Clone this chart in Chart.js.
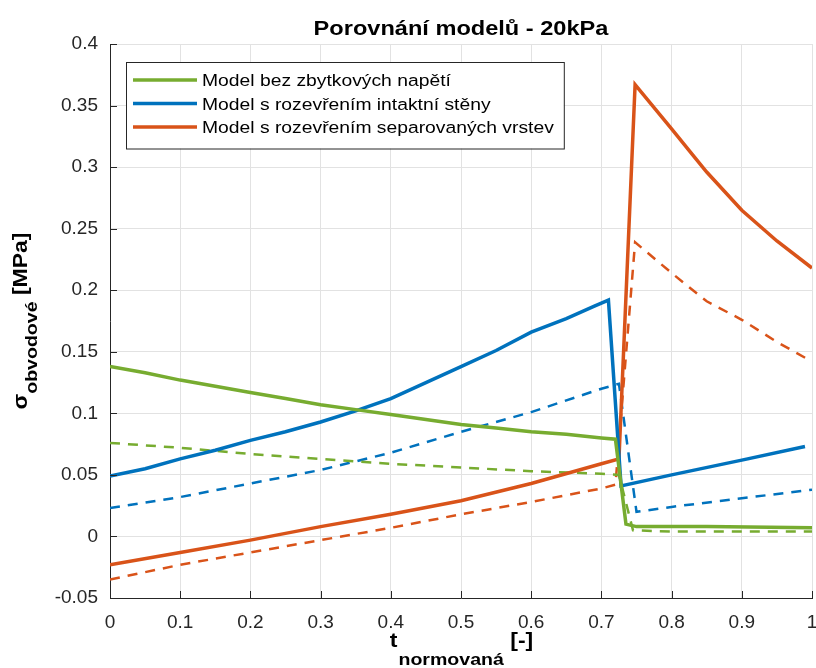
<!DOCTYPE html>
<html>
<head>
<meta charset="utf-8">
<script src="https://cdn.jsdelivr.net/npm/chart.js@4/dist/chart.umd.min.js"></script>
<style>
  html, body { margin: 0; padding: 0; background: #fff; }
  #wrap { width: 816px; height: 668px; }
</style>
</head>
<body>
<div id="wrap"><canvas id="chart" width="816" height="668"></canvas></div>
<script>
// data
const tGreen = [0, 0.05, 0.1, 0.15, 0.2, 0.25, 0.3, 0.35, 0.4, 0.45, 0.5, 0.55, 0.6, 0.65, 0.7, 0.72, 0.735, 0.75, 0.85, 1];
const greenSolid = [0.138, 0.133, 0.127, 0.122, 0.117, 0.112, 0.107, 0.103, 0.099, 0.095, 0.091, 0.088, 0.085, 0.083, 0.080, 0.079, 0.010, 0.008, 0.008, 0.007];
const tGreenDash = [0, 0.1, 0.2, 0.3, 0.4, 0.5, 0.6, 0.7, 0.725, 0.745, 0.8, 1];
const greenDash = [0.076, 0.072, 0.067, 0.063, 0.059, 0.056, 0.053, 0.051, 0.050, 0.005, 0.004, 0.004];

const tBlue = [0, 0.05, 0.1, 0.15, 0.2, 0.25, 0.3, 0.35, 0.4, 0.45, 0.5, 0.55, 0.6, 0.65, 0.69, 0.71, 0.728, 0.8, 0.9, 0.99];
const blueSolid = [0.049, 0.055, 0.063, 0.070, 0.078, 0.085, 0.093, 0.102, 0.112, 0.125, 0.138, 0.151, 0.166, 0.177, 0.187, 0.192, 0.041, 0.050, 0.062, 0.073];
const tBlueDash = [0, 0.1, 0.2, 0.3, 0.4, 0.5, 0.6, 0.7, 0.725, 0.75, 0.8, 0.9, 1];
const blueDash = [0.023, 0.032, 0.043, 0.054, 0.068, 0.085, 0.101, 0.120, 0.124, 0.020, 0.024, 0.031, 0.038];

const tOrange = [0, 0.1, 0.2, 0.3, 0.4, 0.5, 0.6, 0.7, 0.725, 0.748, 0.8, 0.83, 0.85, 0.9, 0.95, 1];
const orangeSolid = [-0.023, -0.013, -0.003, 0.008, 0.018, 0.029, 0.043, 0.059, 0.063, 0.367, 0.331, 0.310, 0.296, 0.265, 0.240, 0.218];
const tOrangeDash = [0, 0.1, 0.2, 0.3, 0.4, 0.5, 0.6, 0.7, 0.72, 0.748, 0.8, 0.85, 0.9, 0.95, 1];
const orangeDash = [-0.035, -0.023, -0.013, -0.003, 0.007, 0.018, 0.028, 0.039, 0.042, 0.239, 0.214, 0.191, 0.176, 0.158, 0.142];

const xTicks = [0, 0.1, 0.2, 0.3, 0.4, 0.5, 0.6, 0.7, 0.8, 0.9, 1];
const xTickLabels = ['0', '0.1', '0.2', '0.3', '0.4', '0.5', '0.6', '0.7', '0.8', '0.9', '1'];
const yTicks = [-0.05, 0, 0.05, 0.1, 0.15, 0.2, 0.25, 0.3, 0.35, 0.4];
const yTickLabels = ['-0.05', '0', '0.05', '0.1', '0.15', '0.2', '0.25', '0.3', '0.35', '0.4'];

const GREEN = '#77AC30', BLUE = '#0072BD', ORANGE = '#D95319';
const FONT = "'Liberation Sans', Arial, sans-serif";
const STRETCH = 1.15; // the figure's text is a bit wider than the font

function pts(ts, ys) {
    return ts.map((t, i) => ({ x: t, y: ys[i] }));
}

function solid(label, ts, ys, color) {
    return { label: label, data: pts(ts, ys), borderColor: color, borderWidth: 3.5,
             pointRadius: 0, showLine: true, fill: false, tension: 0 };
}
function dashed(ts, ys, color) {
    return { label: '', data: pts(ts, ys), borderColor: color, borderWidth: 2.5, borderDash: [10, 8],
             pointRadius: 0, showLine: true, fill: false, tension: 0 };
}

// text drawn a little wider than the font, as in the figure
function textW(ctx, s, font) {
    ctx.font = font;
    return ctx.measureText(s).width * STRETCH;
}
function drawT(ctx, s, x, y, font) {
    ctx.save();
    ctx.font = font;
    ctx.translate(x, y);
    ctx.scale(STRETCH, 1);
    ctx.textAlign = 'left';
    ctx.textBaseline = 'alphabetic';
    ctx.fillText(s, 0, 0);
    ctx.restore();
}

const decor = {
    id: 'decor',
    afterDraw(chart) {
        const ctx = chart.ctx;
        const a = chart.chartArea;
        const xs = chart.scales.x, ys = chart.scales.y;
        const cx = (a.left + a.right) / 2;

        // inward ticks
        ctx.save();
        ctx.strokeStyle = '#262626';
        ctx.lineWidth = 1;
        ctx.beginPath();
        yTicks.forEach(v => {
            const py = Math.round(ys.getPixelForValue(v)) + 0.5;
            ctx.moveTo(a.left, py); ctx.lineTo(a.left + 7, py);
        });
        xTicks.forEach(v => {
            const px = Math.round(xs.getPixelForValue(v)) + 0.5;
            ctx.moveTo(px, a.bottom); ctx.lineTo(px, a.bottom - 7);
        });
        ctx.stroke();
        ctx.restore();

        ctx.save();
        ctx.fillStyle = '#000';
        // title
        const tFont = 'bold 20.5px ' + FONT;
        const title = 'Porovnání modelů - 20kPa';
        drawT(ctx, title, cx - textW(ctx, title, tFont) / 2, 35, tFont);

        // x axis title with subscript
        const big = 'bold 20px ' + FONT, small = 'bold 17px ' + FONT;
        const p1 = 't', p2 = 'normovaná', p3 = ' [-]';
        const w1 = textW(ctx, p1, big), w2 = textW(ctx, p2, small), w3 = textW(ctx, p3, big);
        let x0 = cx - (w1 + w2 + w3) / 2;
        drawT(ctx, p1, x0, 647, big);
        drawT(ctx, p2, x0 + w1 + 1, 665, small);
        drawT(ctx, p3, x0 + w1 + w2 + 1, 647, big);

        // y axis title, rotated
        const q1 = 'σ', q2 = 'obvodové', q3 = ' [MPa]';
        const v1 = textW(ctx, q1, big), v2 = textW(ctx, q2, small), v3 = textW(ctx, q3, big);
        const cy = (a.top + a.bottom) / 2;
        ctx.translate(27, cy);
        ctx.rotate(-Math.PI / 2);
        let s0 = -(v1 + v2 + v3) / 2;
        drawT(ctx, q1, s0, 0, big);
        drawT(ctx, q2, s0 + v1, 10, small);
        drawT(ctx, q3, s0 + v1 + v2, 0, big);
        ctx.restore();

        // legend box (solid series only)
        const items = chart.data.datasets.filter(d => d.label);
        const lx = a.left + 16, ly = a.top + 18, rowH = 23.5;
        const lFont = '16.8px ' + FONT;
        let maxW = 0;
        items.forEach(d => { maxW = Math.max(maxW, textW(ctx, d.label, lFont)); });
        const boxW = 76 + maxW + 10, boxH = rowH * items.length + 16;
        ctx.save();
        ctx.fillStyle = '#fff';
        ctx.fillRect(lx, ly, boxW, boxH);
        ctx.strokeStyle = '#262626';
        ctx.lineWidth = 1;
        ctx.strokeRect(lx + 0.5, ly + 0.5, boxW, boxH);
        items.forEach((d, i) => {
            const yy = ly + 18 + i * rowH;
            ctx.strokeStyle = d.borderColor;
            ctx.lineWidth = 3.5;
            ctx.beginPath();
            ctx.moveTo(lx + 7, yy); ctx.lineTo(lx + 71, yy);
            ctx.stroke();
            ctx.fillStyle = '#000';
            drawT(ctx, d.label, lx + 76, yy + 6, lFont);
        });
        ctx.restore();
    }
};

Chart.defaults.font.family = FONT;

new Chart(document.getElementById('chart'), {
    type: 'scatter',
    data: {
        datasets: [
            solid('Model bez zbytkových napětí', tGreen, greenSolid, GREEN),
            solid('Model s rozevřením intaktní stěny', tBlue, blueSolid, BLUE),
            solid('Model s rozevřením separovaných vrstev', tOrange, orangeSolid, ORANGE),
            dashed(tGreenDash, greenDash, GREEN),
            dashed(tBlueDash, blueDash, BLUE),
            dashed(tOrangeDash, orangeDash, ORANGE)
        ]
    },
    options: {
        responsive: false,
        animation: false,
        layout: { padding: { top: 44, right: 4, left: 0, bottom: 0 } },
        plugins: { legend: { display: false }, title: { display: false }, tooltip: { enabled: false } },
        scales: {
            x: {
                type: 'linear', min: 0, max: 1,
                afterBuildTicks: s => { s.ticks = xTicks.map(v => ({ value: v })); },
                afterFit: s => { s.height = 70; s.paddingLeft = 0; s.paddingRight = 0; },
                ticks: { callback: (v, i) => xTickLabels[i], color: '#262626', font: { size: 19 }, padding: 13, maxRotation: 0 },
                grid: { color: '#e2e2e2', drawTicks: false },
                border: { display: true, color: '#262626', width: 1 }
            },
            y: {
                type: 'linear', min: -0.05, max: 0.4,
                afterBuildTicks: s => { s.ticks = yTicks.map(v => ({ value: v })); },
                afterFit: s => { s.width = 110; s.paddingTop = 0; s.paddingBottom = 0; },
                ticks: { callback: (v, i) => yTickLabels[i], color: '#262626', font: { size: 19 }, padding: 12 },
                grid: { color: '#e2e2e2', drawTicks: false },
                border: { display: true, color: '#262626', width: 1 }
            }
        }
    },
    plugins: [decor]
});
</script>
</body>
</html>
